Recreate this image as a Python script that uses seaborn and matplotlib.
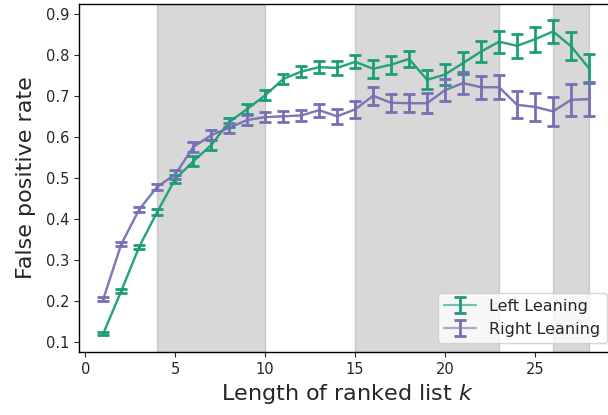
import numpy as np
import pandas as pd
import matplotlib
matplotlib.use("Agg")
import matplotlib.pyplot as plt
import seaborn as sns

k = list(range(1, 29))
left = [0.120, 0.224, 0.332, 0.417, 0.497, 0.540, 0.580, 0.636, 0.668, 0.701,
        0.741, 0.759, 0.770, 0.768, 0.783, 0.766, 0.776, 0.790, 0.739, 0.752,
        0.780, 0.808, 0.832, 0.822, 0.838, 0.857, 0.821, 0.767]
right = [0.204, 0.338, 0.423, 0.478, 0.508, 0.575, 0.604, 0.622, 0.641, 0.648,
         0.650, 0.652, 0.665, 0.650, 0.667, 0.700, 0.683, 0.682, 0.682, 0.714,
         0.731, 0.721, 0.721, 0.678, 0.673, 0.662, 0.690, 0.692]
left_err = [0.004, 0.005, 0.005, 0.008, 0.009, 0.012, 0.012, 0.011, 0.012, 0.012,
            0.013, 0.014, 0.015, 0.016, 0.016, 0.022, 0.022, 0.020, 0.023, 0.026,
            0.026, 0.026, 0.027, 0.030, 0.030, 0.029, 0.034, 0.035]
right_err = [0.004, 0.005, 0.006, 0.008, 0.010, 0.013, 0.012, 0.012, 0.012, 0.012,
             0.013, 0.013, 0.016, 0.018, 0.020, 0.022, 0.022, 0.022, 0.025, 0.026,
             0.027, 0.028, 0.029, 0.033, 0.035, 0.036, 0.039, 0.041]
series_names = ["Left Leaning", "Right Leaning"]
spans = [(4, 10), (15, 23), (26, 28)]

sns.set_style("ticks")
plt.rcParams['font.family'] = ['DejaVu Sans']
colors = sns.color_palette("Dark2", 3)
c_left, c_right = colors[0], colors[2]

fig = plt.figure(figsize=(6.08, 4.15), dpi=100)
ax = fig.add_axes([79/608, 63/415, (616-79)/608, (352-4)/415])

for a, b in spans:
    ax.axvspan(a, b, color="gray", alpha=0.3, zorder=0)

df = pd.DataFrame({
    "k": k * 2,
    "rate": left + right,
    "group": [series_names[0]] * len(k) + [series_names[1]] * len(k),
})
sns.lineplot(data=df, x="k", y="rate", hue="group",
             palette={series_names[0]: c_left, series_names[1]: c_right},
             ax=ax, legend=False, lw=1.6, alpha=0.85, zorder=2)

for vals, errs, col, name in [(left, left_err, c_left, series_names[0]),
                               (right, right_err, c_right, series_names[1])]:
    eb = ax.errorbar(k, vals, yerr=errs, color=col, capsize=4.5, capthick=2,
                     elinewidth=2, lw=1.6, label=name, zorder=3)
    eb[0].set_alpha(0.6)

ax.set_xlim(-0.35, 29.5)
ax.set_ylim(0.075, 0.924)
ax.set_xticks([0, 5, 10, 15, 20, 25])
ax.set_yticks([0.1, 0.2, 0.3, 0.4, 0.5, 0.6, 0.7, 0.8, 0.9])
ax.tick_params(labelsize=10.5)
ax.set_xlabel("Length of ranked list $k$", fontsize=16)
ax.set_ylabel("False positive rate", fontsize=16, labelpad=7)
for s in ax.spines.values():
    s.set_color("black")
    s.set_linewidth(1.0)
ax.legend(loc="lower right", fontsize=11.5, bbox_to_anchor=(606.7/608, 71.7/415),
          bbox_transform=fig.transFigure, borderaxespad=0.0)

fig.savefig("out.png", dpi=100)
